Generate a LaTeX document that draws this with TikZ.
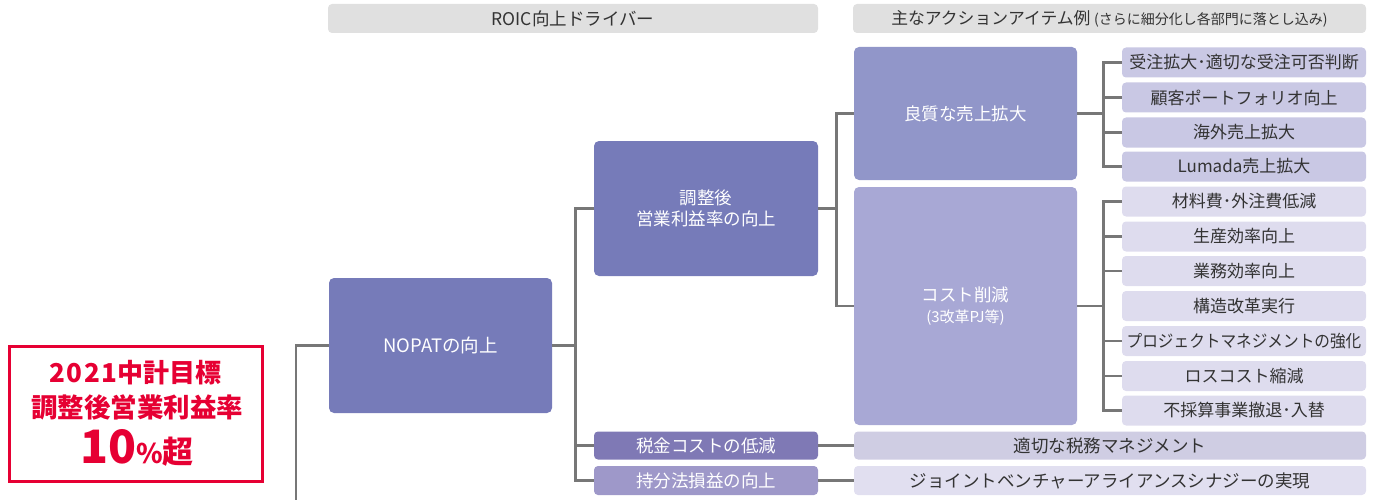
\documentclass[tikz,border=0pt]{standalone}
\usepackage{fontspec}
\setmainfont{Noto Sans CJK JP}
\usetikzlibrary{positioning}
\definecolor{hdr}{HTML}{E0E0E0}
\definecolor{ln}{HTML}{777777}
\definecolor{dark}{HTML}{767BB9}
\definecolor{mid}{HTML}{9196C9}
\definecolor{cost}{HTML}{A8A8D5}
\definecolor{itemA}{HTML}{C9C8E4}
\definecolor{itemB}{HTML}{DEDCEE}
\definecolor{taxc}{HTML}{7F79B5}
\definecolor{eqc}{HTML}{9E98C9}
\definecolor{taxi}{HTML}{CFCDE3}
\definecolor{eqi}{HTML}{E1DFF0}
\definecolor{redc}{HTML}{E60033}
\definecolor{txt}{HTML}{333333}
\tikzset{
  hdrbox/.style={fill=hdr, rounded corners=4pt, inner sep=0pt, text=txt, font=\fontsize{17.5}{20}\selectfont},
  bigbox/.style={rounded corners=5pt, inner sep=0pt, align=center, text=white, font=\fontsize{17.5}{21}\selectfont},
  itembox/.style={rounded corners=4pt, inner sep=0pt, minimum width=244pt, minimum height=30pt, text=txt, font=\fontsize{17}{20}\selectfont},
  smallbox/.style={rounded corners=4pt, inner sep=0pt, text=white, font=\fontsize{17.5}{20}\selectfont},
  wide/.style={rounded corners=4pt, inner sep=0pt, minimum width=512pt, text=txt, font=\fontsize{17.5}{20}\selectfont},
  conn/.style={draw=ln, line width=2.6pt},
}
\begin{document}
\begin{tikzpicture}[x=1pt,y=-1pt]
\useasboundingbox (0,0) rectangle (1380,500);
% headers
\node[hdrbox, minimum width=490pt, minimum height=29pt] (h1) at (573,18.5) {ROIC向上ドライバー};
\node[hdrbox, minimum width=513pt, minimum height=29pt, font=\fontsize{16.8}{20}\selectfont] (h2) at (1109.5,18.5) {主なアクションアイテム例 {\fontsize{14}{16}\selectfont (さらに細分化し各部門に落とし込み)}};
% target box
\node[draw=redc, line width=3pt, minimum width=253pt, minimum height=135pt, inner sep=0pt] (goal) at (135.5,413.5) {};
\node[text=redc, font=\bfseries\fontsize{26}{28}\selectfont] (g1) at (135.5,373) {{\addfontfeature{LetterSpace=5}2021}中計目標};
\node[text=redc, font=\bfseries\fontsize{26.5}{28}\selectfont] (g2) at (137,407) {調整後営業利益率};
\node[text=redc, font=\bfseries] (g3) at (137,448) {\fontsize{46}{50}\selectfont 10{\fontsize{27}{30}\selectfont\%}{\fontsize{31}{34}\selectfont 超}};
% main boxes
\node[bigbox, fill=dark, minimum width=223pt, minimum height=135pt, font=\fontsize{18.5}{21}\selectfont] (nopat) at (440.5,345.5) {NOPATの向上};
\node[bigbox, fill=dark, minimum width=224pt, minimum height=135pt] (adj) at (706,208.5) {調整後\\営業利益率の向上};
\node[smallbox, fill=taxc, minimum width=224pt, minimum height=28pt] (tax) at (706,445.5) {税金コストの低減};
\node[smallbox, fill=eqc, minimum width=224pt, minimum height=29pt] (eq) at (706,480.5) {持分法損益の向上};
\node[bigbox, fill=mid, minimum width=223pt, minimum height=133pt] (qual) at (965.5,113.5) {良質な売上拡大};
\node[bigbox, fill=cost, minimum width=223pt, minimum height=238pt] (cost) at (965.5,306) {コスト削減\\[0pt]{\fontsize{15}{17}\selectfont (3改革PJ等)}};
\node[wide, fill=taxi, minimum height=28pt] (taxitem) at (1110,445.5) {適切な税務マネジメント};
\node[wide, fill=eqi, minimum height=29pt] (eqitem) at (1110,480.5) {ジョイントベンチャーアライアンスシナジーの実現};
% items
\foreach \n/\y/\c/\t in {
 i1/62.5/itemA/受注拡大･適切な受注可否判断,
 i2/97.5/itemA/顧客ポートフォリオ向上,
 i3/132.5/itemA/海外売上拡大,
 i4/166.5/itemA/Lumada売上拡大,
 i5/201.5/itemB/材料費･外注費低減,
 i6/236.5/itemB/生産効率向上,
 i7/271/itemB/業務効率向上,
 i8/306/itemB/構造改革実行,
 i9/341/itemB/{\scalebox{0.92}[1]{プロジェクトマネジメントの強化}},
 i10/376/itemB/ロスコスト縮減,
 i11/410.5/itemB/不採算事業撤退･入替}
 {\node[itembox, fill=\c] (\n) at (1244,\y) {\t};}
% connectors
\coordinate (root) at (296,500);
\draw[conn] (root) |- (nopat.west);
\draw[conn] (nopat.east) -- ++(23,0) coordinate (j1);
\draw[conn] (adj.west) -| (j1) |- (eq.west);
\draw[conn] (j1 |- tax.west) -- (tax.west);
\draw[conn] (adj.east) -- ++(18,0) coordinate (j2);
\draw[conn] (qual.west) -| (j2) |- (cost.west);
\draw[conn] (tax.east) -- (taxitem.west);
\draw[conn] (eq.east) -- (eqitem.west);
\draw[conn] (qual.east) -- ++(26,0) coordinate (j3);
\draw[conn] (i1.west) -| (j3) |- (i4.west);
\draw[conn] (j3 |- i2.west) -- (i2.west);
\draw[conn] (j3 |- i3.west) -- (i3.west);
\draw[conn] (cost.east) -- ++(26,0) coordinate (j4);
\draw[conn] (i5.west) -| (j4) |- (i11.west);
\foreach \k in {6,7,9,10} {\draw[conn] (j4 |- i\k.west) -- (i\k.west);}
\end{tikzpicture}
\end{document}
